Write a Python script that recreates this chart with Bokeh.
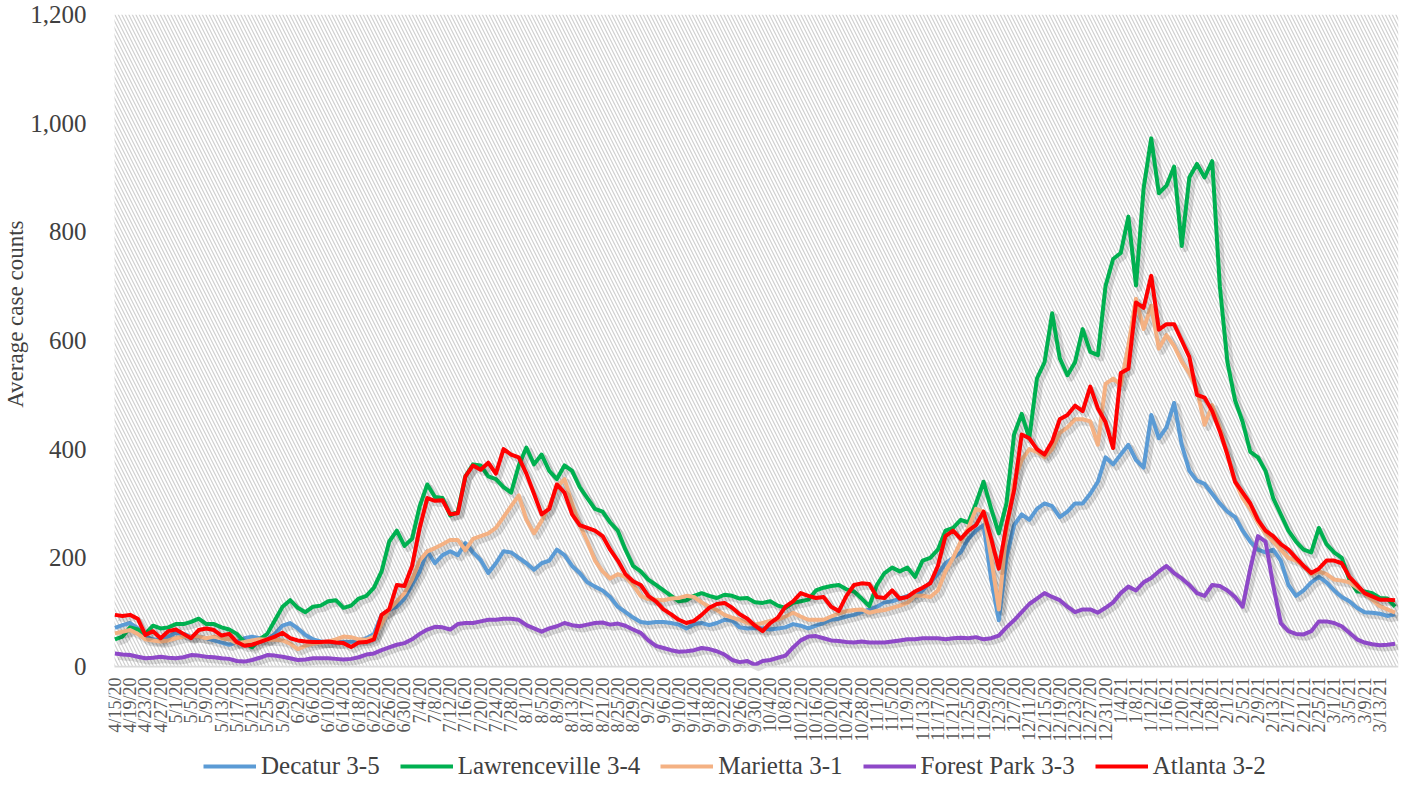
import math
import pandas as pd
from bokeh.plotting import figure
from bokeh.models import (Range1d, FixedTicker, NumeralTickFormatter, BoxAnnotation,
                          Legend, LegendItem, ColumnDataSource, Title)
from bokeh.core.properties import value
from bokeh.transform import dodge
from bokeh.embed import file_html
from bokeh.resources import INLINE

# ---------------- data (values read every 2nd day, day 0 = 4/15/20) ----------------
start_date = "2020-04-15"
n_days = 337
days = list(range(0, 337, 2))

decatur = [71, 76, 80, 70, 55, 50, 48, 55, 62, 60,
           55, 55, 52, 48, 44, 40, 45, 52, 55, 52,
           50, 60, 75, 80, 70, 58, 50, 46, 45, 44,
           45, 45, 48, 52, 60, 95, 104, 110, 125, 150,
           175, 212, 190, 205, 212, 205, 227, 210, 196, 172,
           190, 212, 210, 200, 190, 178, 190, 195, 215, 205,
           185, 172, 155, 147, 140, 128, 110, 100, 90, 82,
           80, 82, 82, 80, 77, 70, 78, 80, 76, 80,
           86, 84, 72, 70, 71, 70, 68, 70, 72, 78,
           75, 70, 75, 80, 86, 88, 92, 95, 100, 105,
           110, 118, 120, 125, 130, 128, 140, 155, 170, 190,
           200, 210, 235, 250, 260, 160, 85, 200, 260, 280,
           270, 290, 300, 295, 275, 285, 300, 300, 318, 340,
           385, 372, 390, 408, 380, 366, 463, 420, 440, 485,
           408, 360, 342, 336, 318, 300, 285, 275, 250, 230,
           215, 210, 215, 195, 150, 130, 140, 155, 165, 155,
           140, 128, 120, 108, 100, 99, 97, 93, 96]

lawrenceville = [50, 55, 72, 68, 60, 75, 70, 72, 78, 78,
                 82, 88, 78, 78, 72, 68, 60, 45, 35, 50,
                 60, 85, 110, 122, 108, 100, 110, 112, 120, 122,
                 108, 112, 125, 130, 145, 175, 230, 250, 222, 235,
                 295, 335, 312, 310, 278, 285, 350, 372, 370, 350,
                 345, 330, 320, 370, 403, 372, 390, 360, 345, 370,
                 360, 330, 310, 290, 285, 265, 250, 215, 185, 175,
                 160, 150, 140, 130, 120, 122, 130, 135, 130, 126,
                 132, 130, 125, 126, 118, 117, 120, 112, 108, 117,
                 120, 123, 140, 145, 148, 150, 142, 138, 125, 111,
                 150, 172, 182, 175, 182, 165, 195, 200, 215, 250,
                 255, 270, 265, 300, 340, 290, 245, 300, 427, 465,
                 420, 530, 560, 650, 567, 536, 560, 621, 579, 573,
                 700, 750, 761, 828, 701, 880, 972, 871, 885, 920,
                 774, 900, 925, 900, 930, 700, 560, 490, 450, 395,
                 385, 360, 310, 280, 250, 230, 215, 210, 255, 225,
                 210, 200, 160, 138, 138, 135, 126, 125, 110]

marietta = [61, 64, 67, 60, 50, 48, 46, 48, 52, 55,
            55, 55, 52, 55, 52, 50, 43, 45, 48, 50,
            49, 49, 48, 42, 32, 38, 42, 44, 46, 50,
            55, 54, 50, 49, 55, 78, 105, 120, 135, 160,
            195, 212, 218, 225, 233, 233, 214, 235, 240, 245,
            255, 275, 295, 315, 270, 245, 268, 295, 330, 345,
            300, 260, 230, 195, 175, 162, 170, 165, 150, 130,
            124, 123, 122, 125, 126, 130, 128, 118, 110, 104,
            95, 90, 86, 80, 77, 80, 84, 86, 92, 99,
            92, 86, 86, 86, 92, 98, 102, 104, 105, 99,
            102, 104, 108, 112, 117, 130, 130, 128, 140, 175,
            200, 230, 255, 290, 285, 200, 105, 250, 340, 380,
            400, 395, 385, 400, 430, 440, 455, 455, 451, 408,
            520, 530, 518, 590, 677, 621, 664, 585, 610, 590,
            561, 540, 510, 445, 481, 440, 390, 340, 310, 290,
            265, 245, 230, 215, 200, 195, 185, 170, 175, 170,
            160, 158, 155, 145, 135, 123, 111, 105, 99]

forest_park = [24, 22, 21, 18, 15, 16, 18, 16, 15, 17,
               21, 20, 18, 17, 15, 14, 10, 9, 12, 16,
               21, 20, 18, 15, 12, 13, 15, 15, 15, 14,
               13, 14, 17, 22, 24, 30, 35, 40, 43, 50,
               60, 68, 73, 72, 68, 78, 80, 80, 83, 86,
               86, 88, 88, 86, 76, 70, 64, 70, 74, 80,
               76, 74, 77, 80, 81, 77, 79, 75, 68, 62,
               48, 38, 34, 30, 27, 28, 30, 34, 32, 28,
               22, 12, 8, 10, 3, 10, 12, 16, 20, 35,
               48, 55, 56, 52, 48, 47, 45, 44, 46, 44,
               44, 44, 46, 48, 50, 50, 52, 52, 52, 50,
               52, 53, 52, 54, 50, 52, 57, 72, 85, 100,
               115, 125, 135, 128, 122, 110, 100, 105, 105, 99,
               108, 118, 135, 147, 140, 155, 163, 175, 185, 172,
               162, 150, 135, 130, 150, 148, 140, 128, 110, 180,
               240, 230, 150, 80, 65, 60, 59, 65, 83, 83,
               80, 74, 62, 50, 44, 41, 39, 40, 42]

atlanta = [95, 93, 95, 88, 58, 65, 52, 65, 68, 60,
           52, 67, 70, 67, 57, 60, 45, 38, 40, 45,
           50, 55, 62, 52, 48, 46, 45, 45, 46, 44,
           43, 36, 44, 45, 50, 95, 105, 150, 148, 185,
           255, 310, 305, 306, 280, 282, 350, 370, 362, 375,
           355, 400, 390, 385, 355, 318, 280, 290, 335, 320,
           280, 260, 255, 250, 240, 215, 195, 170, 157, 150,
           130, 120, 105, 96, 86, 80, 84, 95, 108, 115,
           117, 108, 96, 88, 75, 65, 80, 90, 110, 120,
           135, 130, 126, 128, 110, 102, 130, 150, 153, 152,
           128, 126, 140, 125, 128, 138, 145, 153, 185, 240,
           250, 235, 250, 260, 285, 235, 180, 260, 324, 427,
           420, 400, 390, 414, 455, 463, 480, 470, 515, 475,
           450, 402, 540, 548, 670, 660, 719, 620, 630, 630,
           600, 570, 500, 495, 470, 433, 390, 340, 320, 300,
           270, 250, 240, 225, 215, 200, 185, 172, 180, 195,
           195, 190, 165, 150, 135, 129, 123, 123, 122]

series_names = ["Decatur 3-5", "Lawrenceville 3-4", "Marietta 3-1", "Forest Park 3-3", "Atlanta 3-2"]
series_values = [decatur, lawrenceville, marietta, forest_park, atlanta]
series_colors = ["#5B9BD5", "#00B050", "#F4B183", "#8E48C8", "#FF0000"]

y_ticks = [0, 200, 400, 600, 800, 1000, 1200]
tick_days = list(range(0, 333, 4))
all_dates = pd.date_range(start_date, periods=n_days, freq="D")
tick_labels = [f"{all_dates[d].month}/{all_dates[d].day}/{all_dates[d].strftime('%y')}" for d in tick_days]

# ---------------- figure ----------------
FONT = "Liberation Serif"
X_START, X_END = -1.675, 336.9   # small room left of day 0 so the first date label is not clipped
Y_TOP = 1200
Y_BOTTOM = -211.7                 # room under the zero line for the date labels and the legend
p = figure(frame_width=1290, frame_height=767, output_backend="svg", toolbar_location=None,
           x_range=Range1d(X_START, X_END), y_range=Range1d(Y_BOTTOM, Y_TOP),
           x_axis_location=None,
           min_border_left=102, min_border_right=5, min_border_top=14, min_border_bottom=0)
p.outline_line_color = None
p.xgrid.grid_line_color = None
p.ygrid.grid_line_color = None
p.background_fill_color = "white"

hatch = BoxAnnotation(left=-0.1, right=X_END, bottom=0, top=Y_TOP, fill_alpha=0, line_alpha=0,
                      hatch_pattern="left_diagonal_line", hatch_color="#d0d0d0",
                      hatch_scale=7, hatch_weight=1.2, level="underlay")
p.add_layout(hatch)
p.add_layout(BoxAnnotation(left=-0.1, right=X_END, bottom=-2, top=1.5, fill_color="#d9d9d9",
                           fill_alpha=1, line_alpha=0))

items = []
for name, vals, col in zip(series_names, series_values, series_colors):
    n = min(len(days), len(vals))
    src = ColumnDataSource(dict(x=days[:n], y=vals[:n]))
    p.line(x=dodge("x", 0.9), y=dodge("y", -6), source=src, line_color="#000000",
           line_alpha=0.13, line_width=6, line_join="round")
    r = p.line(x="x", y="y", source=src, line_color=col, line_width=4, line_join="round")
    items.append(LegendItem(label=name, renderers=[r]))

# date labels under the zero line (rotated, reading upwards)
lab_src = ColumnDataSource(dict(x=tick_days, y=[0] * len(tick_days), t=tick_labels))
p.text(x="x", y="y", text="t", source=lab_src, angle=math.pi / 2, y_offset=11,
       text_align="right", text_baseline="middle", text_font=value(FONT),
       text_font_size="18px", text_color="#595959")

# y axis
p.yaxis.ticker = FixedTicker(ticks=y_ticks)
p.yaxis.formatter = NumeralTickFormatter(format="0,0")
p.yaxis.axis_line_color = None
p.yaxis.major_tick_line_color = None
p.yaxis.minor_tick_line_color = None
p.yaxis.major_label_text_font = FONT
p.yaxis.major_label_text_font_size = "25px"
p.yaxis.major_label_text_color = "#404040"
p.yaxis.major_label_standoff = 16

ytitle = Title(text="Average case counts", align="right", offset=206, standoff=0,
               text_font=FONT, text_font_size="23px", text_font_style="normal",
               text_color="#404040")
p.add_layout(ytitle, "left")

legend = Legend(items=items, orientation="horizontal", location=(95, 1),
                label_text_font=FONT, label_text_font_size="25px", label_text_color="#404040",
                glyph_width=53, glyph_height=22, label_height=22, spacing=20, label_standoff=5,
                border_line_color=None, background_fill_alpha=0, padding=0, margin=0)
p.add_layout(legend)

open("out.html", "w").write(file_html(p, INLINE))
